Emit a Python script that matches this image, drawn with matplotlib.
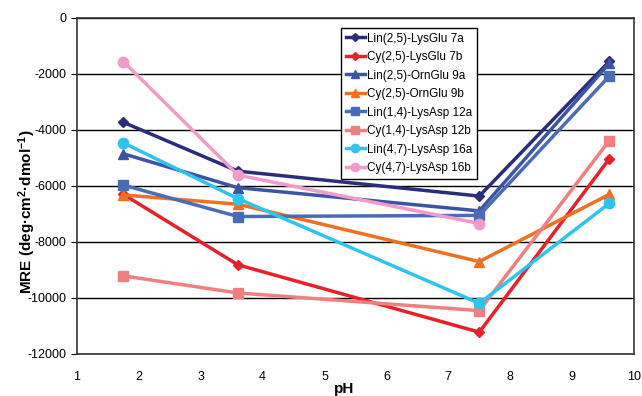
import numpy as np
import matplotlib
matplotlib.use("Agg")
from matplotlib import pyplot as plt

plt.rcParams['font.family'] = ['Liberation Sans', 'DejaVu Sans']
plt.rcParams['mathtext.fontset'] = 'custom'
plt.rcParams['mathtext.rm'] = 'Liberation Sans:bold'
plt.rcParams['mathtext.bf'] = 'Liberation Sans:bold'
plt.rcParams['mathtext.default'] = 'bf'
plt.rcParams['axes.unicode_minus'] = False

# pH values where MRE was measured
ph = [1.75, 3.6, 7.5, 9.6]

# MRE series (deg cm2 dmol-1)
lin_lysglu_7a = [-3725, -5470, -6360, -1550]
cy_lysglu_7b = [-6300, -8815, -11220, -5030]
lin_ornglu_9a = [-4850, -6060, -6890, -1620]
cy_ornglu_9b = [-6320, -6650, -8700, -6300]
lin_lysasp_12a = [-5970, -7090, -7050, -2080]
cy_lysasp_12b = [-9210, -9820, -10450, -4380]
lin_lysasp_16a = [-4460, -6450, -10190, -6620]
cy_lysasp_16b = [-1555, -5610, -7340, np.nan]

labels = ["Lin(2,5)-LysGlu 7a", "Cy(2,5)-LysGlu 7b", "Lin(2,5)-OrnGlu 9a",
          "Cy(2,5)-OrnGlu 9b", "Lin(1,4)-LysAsp 12a", "Cy(1,4)-LysAsp 12b",
          "Lin(4,7)-LysAsp 16a", "Cy(4,7)-LysAsp 16b"]
series = [lin_lysglu_7a, cy_lysglu_7b, lin_ornglu_9a, cy_ornglu_9b,
          lin_lysasp_12a, cy_lysasp_12b, lin_lysasp_16a, cy_lysasp_16b]
colors = ["#2B2C7C", "#E8202A", "#3A55A4", "#F07022",
          "#4A6CB8", "#F07F80", "#2EC4F0", "#F39AC8"]
markers = ["D", "D", "^", "^", "s", "s", "o", "o"]
msizes = [5, 5, 7, 7, 7, 7, 7.5, 7.5]

fig = plt.figure(figsize=(6.42, 3.96), dpi=100)
ax = fig.add_axes([77/642, 1-354/396, (634-77)/642, (354-18)/396])

for y, lab, c, mk, ms in zip(series, labels, colors, markers, msizes):
    ax.plot(ph, y, color=c, marker=mk, markersize=ms, linewidth=2.5, label=lab)

ax.set_xlim(1, 10)
ax.set_ylim(-12000, 0)
ax.set_xticks(np.arange(1, 11))
ax.set_yticks(np.arange(-12000, 1, 2000))
ax.yaxis.grid(True, color="black", linewidth=1)
ax.set_axisbelow(True)
ax.tick_params(axis='x', length=0, labelsize=9, pad=12)
ax.tick_params(axis='y', length=4, labelsize=9, direction='out')
for s in ax.spines.values():
    s.set_linewidth(1.2)
    s.set_color("#333333")

ax.set_xlabel("pH", fontsize=11, fontweight='bold', va='top')
ax.xaxis.set_label_coords((344-77)/557, (354-382)/336)
ax.set_ylabel(r"MRE (deg·cm$^{2}$·dmol$^{-1}$)", fontsize=11, fontweight='bold', va='center')
ax.yaxis.set_label_coords(-(77-27)/557, (354-212)/336)

leg = ax.legend(loc='upper left', bbox_to_anchor=(335/642, 1-22/396),
                bbox_transform=fig.transFigure, fontsize=8.5, frameon=True,
                fancybox=False, edgecolor="black", framealpha=1,
                handlelength=1.6, handletextpad=0.2, labelspacing=0.55,
                borderpad=0.4, markerscale=0.8)
leg.get_frame().set_linewidth(1)

fig.savefig("out.png", dpi=100)
